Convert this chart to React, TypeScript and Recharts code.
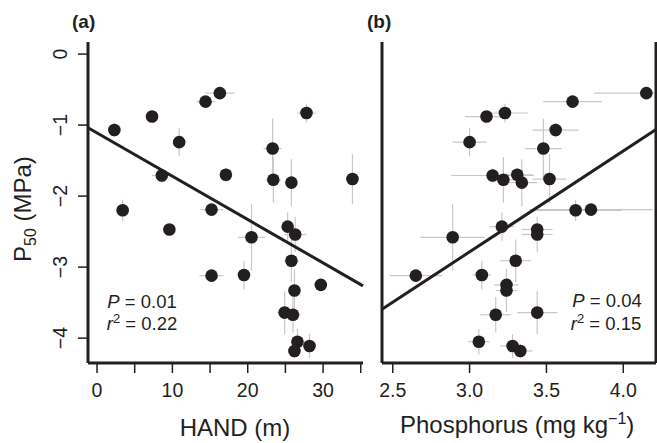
import React from "react";
import { ScatterChart, Scatter, XAxis, YAxis, ErrorBar, ReferenceLine } from "recharts";

// P50 (MPa) per species, shared by both panels
const p50 = [-0.55, -0.67, -0.83, -0.88, -1.07, -1.24, -1.33, -1.71, -1.7, -1.76, -1.77, -1.81, -2.2, -2.19, -2.43, -2.47, -2.54, -2.58, -2.91, -3.12, -3.11, -3.25, -3.33, -3.64, -3.67, -4.05, -4.11, -4.18];
const p50Err = [0.04, 0.05, 0.13, 0.03, 0.1, 0.2, 0.42, 0.1, 0.1, 0.35, 0.32, 0.33, 0.15, 0.05, 0.2, 0.05, 0.25, 0.47, 0.3, 0.08, 0.2, 0.08, 0.3, 0.3, 0.25, 0.18, 0.17, 0.1];

// panel (a): height above nearest drainage (m)
const hand = [16.3, 14.4, 27.8, 7.3, 2.3, 10.9, 23.3, 8.6, 17.1, 33.9, 23.4, 25.8, 3.4, 15.2, 25.3, 9.6, 26.3, 20.5, 25.8, 15.2, 19.5, 29.7, 26.2, 24.9, 26.0, 26.6, 28.2, 26.2];
const handErr = [2.0, 1.2, 1.2, 0.3, 0.3, 0.5, 1.2, 1.3, 0.4, 0.5, 1.0, 0.5, 0.4, 1.5, 0.5, 0.3, 1.5, 1.8, 1.0, 1.6, 0.5, 0.4, 0.5, 1.0, 1.0, 0.8, 0.5, 0.5];

// panel (b): soil phosphorus (mg/kg)
const phosphorus = [4.15, 3.67, 3.23, 3.11, 3.56, 3.0, 3.48, 3.15, 3.31, 3.52, 3.22, 3.34, 3.69, 3.79, 3.21, 3.44, 3.44, 2.89, 3.3, 2.65, 3.08, 3.24, 3.24, 3.44, 3.17, 3.06, 3.28, 3.33];
const phosphorusErr = [0.34, 0.19, 0.15, 0.14, 0.15, 0.11, 0.12, 0.27, 0.1, 0.11, 0.1, 0.1, 0.3, 0.4, 0.08, 0.1, 0.1, 0.21, 0.1, 0.17, 0.06, 0.08, 0.07, 0.13, 0.1, 0.07, 0.08, 0.08];

const handTicks = [0, 5, 10, 15, 20, 25, 30, 35];
const phosTicks = [2.5, 3.0, 3.5, 4.0];
const p50Ticks = [0, -1, -2, -3, -4];

const handDomain = [-1.2, 35.3];
const phosDomain = [2.43, 4.213];
const p50Domain = [-4.35, 0.17];

// linear fits (intercept, slope)
const handFit = [-1.11, -0.061];
const phosFit = [-7.045, 1.42];

const INK = "#231f20";
const BAR = "#c8c8c8";
const FONT = '"Liberation Sans", Arial, Helvetica, sans-serif';

const handData = hand.map((x, i) => ({ x, y: p50[i], ex: handErr[i], ey: p50Err[i] }));
const phosData = phosphorus.map((x, i) => ({ x, y: p50[i], ex: phosphorusErr[i], ey: p50Err[i] }));

const fitSegment = (fit: number[], dom: number[]) => [
  { x: dom[0], y: fit[0] + fit[1] * dom[0] },
  { x: dom[1], y: fit[0] + fit[1] * dom[1] },
];

const Dot = (props: any) => <circle cx={props.cx} cy={props.cy} r={6.3} fill={INK} />;

// axis line sits at y=363, tick labels baseline ~397
const HandTick = (props: any) => {
  const v = props.payload.value;
  if (v % 10 !== 0) return null;
  return (
    <text x={props.x} y={397} textAnchor="middle" fontSize={19.5} fill={INK} fontFamily={FONT}>
      {v}
    </text>
  );
};

const PhosTick = (props: any) => (
  <text x={props.x} y={397} textAnchor="middle" fontSize={19.5} fill={INK} fontFamily={FONT}>
    {props.payload.value.toFixed(1)}
  </text>
);

const P50Tick = (props: any) => {
  const v = props.payload.value;
  const label = v < 0 ? "\u2212" + Math.abs(v) : String(v);
  return (
    <text
      transform={`translate(67, ${props.y}) rotate(-90)`}
      textAnchor="middle"
      fontSize={19.5}
      fill={INK}
      fontFamily={FONT}
    >
      {label}
    </text>
  );
};

const axisLine = { stroke: INK, strokeWidth: 3 };
const tickLine = { stroke: INK, strokeWidth: 1.5 };

export default function App() {
  return (
    <div style={{ position: "absolute", left: 0, top: 0, width: 657, height: 443, background: "#fff", fontFamily: FONT }}>
      <div style={{ position: "absolute", left: 0, top: 0 }}>
        <ScatterChart width={375} height={443} margin={{ top: 42, right: 12, bottom: 50, left: 28 }}>
          <XAxis
            type="number"
            dataKey="x"
            domain={handDomain}
            ticks={handTicks}
            interval={0}
            allowDataOverflow
            height={30}
            tickSize={10}
            axisLine={axisLine}
            tickLine={tickLine}
            tick={<HandTick />}
          />
          <YAxis
            type="number"
            dataKey="y"
            domain={p50Domain}
            ticks={p50Ticks}
            interval={0}
            allowDataOverflow
            width={60}
            tickSize={10}
            axisLine={axisLine}
            tickLine={tickLine}
            tick={<P50Tick />}
          />
          <Scatter data={handData} shape={<Dot />} isAnimationActive={false}>
            <ErrorBar dataKey="ex" direction="x" width={0} stroke={BAR} strokeWidth={1.2} />
            <ErrorBar dataKey="ey" direction="y" width={0} stroke={BAR} strokeWidth={1.2} />
          </Scatter>
          <ReferenceLine segment={fitSegment(handFit, handDomain)} stroke={INK} strokeWidth={3} />
        </ScatterChart>
      </div>
      <div style={{ position: "absolute", left: 340, top: 0 }}>
        <ScatterChart width={317} height={443} margin={{ top: 42, right: 1, bottom: 50, left: 2 }}>
          <XAxis
            type="number"
            dataKey="x"
            domain={phosDomain}
            ticks={phosTicks}
            interval={0}
            allowDataOverflow
            height={30}
            tickSize={10}
            axisLine={axisLine}
            tickLine={tickLine}
            tick={<PhosTick />}
          />
          <YAxis
            type="number"
            dataKey="y"
            domain={p50Domain}
            ticks={p50Ticks}
            allowDataOverflow
            width={40}
            axisLine={axisLine}
            tickLine={false}
            tick={false}
          />
          <Scatter data={phosData} shape={<Dot />} isAnimationActive={false}>
            <ErrorBar dataKey="ex" direction="x" width={0} stroke={BAR} strokeWidth={1.2} />
            <ErrorBar dataKey="ey" direction="y" width={0} stroke={BAR} strokeWidth={1.2} />
          </Scatter>
          <ReferenceLine segment={fitSegment(phosFit, phosDomain)} stroke={INK} strokeWidth={3} />
          <ReferenceLine x={phosDomain[1]} stroke={INK} strokeWidth={3} />
        </ScatterChart>
      </div>
      <svg
        width={657}
        height={443}
        style={{ position: "absolute", left: 0, top: 0, pointerEvents: "none" }}
        fontFamily={FONT}
        fill={INK}
      >
        <text x={72} y={28} fontSize={19} fontWeight="bold">(a)</text>
        <text x={367} y={28} fontSize={19} fontWeight="bold">(b)</text>

        <text transform="translate(31, 262) rotate(-90)" fontSize={24}>
          P<tspan fontSize={16} dy={5}>50</tspan>
          <tspan dy={-5}> (MPa)</tspan>
        </text>

        <text x={235} y={436} fontSize={24} textAnchor="middle">HAND (m)</text>
        <text x={400} y={433} fontSize={24}>
          Phosphorus (mg kg<tspan fontSize={16} dy={-9}>{"\u2212"}1</tspan>
          <tspan dy={9}>)</tspan>
        </text>

        <text x={142} y={308} fontSize={18.5} textAnchor="middle">
          <tspan fontStyle="italic">P</tspan> = 0.01
        </text>
        <text x={142} y={330} fontSize={18.5} textAnchor="middle">
          <tspan fontStyle="italic">r</tspan>
          <tspan fontSize={13} dy={-7}>2</tspan>
          <tspan dy={7}> = 0.22</tspan>
        </text>
        <text x={607} y={307} fontSize={18.5} textAnchor="middle">
          <tspan fontStyle="italic">P</tspan> = 0.04
        </text>
        <text x={606} y={330} fontSize={18.5} textAnchor="middle">
          <tspan fontStyle="italic">r</tspan>
          <tspan fontSize={13} dy={-7}>2</tspan>
          <tspan dy={7}> = 0.15</tspan>
        </text>
      </svg>
    </div>
  );
}
